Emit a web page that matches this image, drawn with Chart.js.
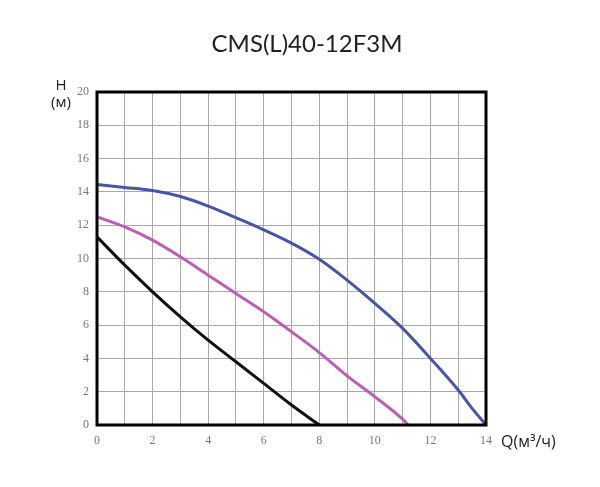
<!DOCTYPE html>
<html>
<head>
<meta charset="utf-8">
<script src="https://cdn.jsdelivr.net/npm/chart.js@4/dist/chart.umd.min.js"></script>
<style>
html,body{margin:0;padding:0;background:#fff;}
#wrap{position:relative;width:600px;height:487px;}
</style>
</head>
<body>
<div id="wrap"><canvas id="c" width="600" height="487"></canvas></div>
<script>
const titleText = 'CMS(L)40-12F3M';
const yLabelTop = 'H';
const yLabelBottom = '(м)';
const xLabel = 'Q(м³/ч)';

const blueQ = [0, 1, 2, 3, 4, 5, 6, 7, 8, 9, 10, 11, 12, 13, 13.5, 14];
const blueH = [14.45, 14.27, 14.08, 13.72, 13.15, 12.45, 11.72, 10.92, 9.95, 8.7, 7.3, 5.8, 4.0, 2.1, 1.0, 0];
const magentaQ = [0, 1, 2, 3, 4, 5, 6, 7, 8, 9, 10, 11, 11.2];
const magentaH = [12.5, 11.9, 11.1, 10.1, 9.0, 7.9, 6.8, 5.6, 4.35, 2.95, 1.7, 0.35, 0];
const blackQ = [0, 1, 2, 3, 4, 5, 6, 7, 8];
const blackH = [11.3, 9.6, 8.0, 6.5, 5.1, 3.8, 2.5, 1.2, 0];

function pts(xs, ys){ return xs.map((x,i)=>({x:x, y:ys[i]})); }

const frame = {
  id:'frame',
  afterDatasetsDraw(chart){
    const {ctx, chartArea:a} = chart;
    ctx.save();
    ctx.strokeStyle = '#000';
    ctx.lineWidth = 3;
    ctx.strokeRect(a.left, a.top, a.right - a.left, a.bottom - a.top);
    ctx.restore();
  },
  afterDraw(chart){
    const ctx = chart.ctx;
    ctx.save();
    ctx.fillStyle = '#222';
    ctx.textAlign = 'center';
    ctx.textBaseline = 'alphabetic';
    ctx.font = '24px Lato, "Open Sans", sans-serif';
    ctx.fillText(titleText, 307, 52);
    ctx.font = '15px "Open Sans", sans-serif';
    ctx.textBaseline = 'middle';
    ctx.fillText(yLabelTop, 61, 86);
    ctx.fillText(yLabelBottom, 61, 103);
    ctx.textAlign = 'left';
    ctx.font = '16px "Open Sans", sans-serif';
    ctx.fillText(xLabel, 501, 442);
    ctx.restore();
  }
};

const tickFont = {family:'"Liberation Serif", "DejaVu Serif", serif', size:12};

new Chart(document.getElementById('c'), {
  type:'line',
  data:{
    datasets:[
      {data:pts(blueQ, blueH), borderColor:'#4a54a6', borderWidth:3, pointRadius:0, cubicInterpolationMode:'monotone', fill:false},
      {data:pts(magentaQ, magentaH), borderColor:'#bb5fb3', borderWidth:3, pointRadius:0, cubicInterpolationMode:'monotone', fill:false},
      {data:pts(blackQ, blackH), borderColor:'#111', borderWidth:3, pointRadius:0, cubicInterpolationMode:'monotone', fill:false}
    ]
  },
  options:{
    responsive:false,
    animation:false,
    events:[],
    layout:{padding:{left:0, top:92, right:114, bottom:0}},
    plugins:{legend:{display:false}, tooltip:{enabled:false}, title:{display:false}},
    scales:{
      x:{
        type:'linear', min:0, max:14,
        afterFit(s){ s.height = 62; },
        ticks:{stepSize:1, autoSkip:false, maxRotation:0, padding:9, color:'#777', font:tickFont,
          callback:(v)=> (v % 2 === 0 ? String(v) : '')},
        grid:{color:'#a8a8a8', lineWidth:1, drawTicks:false},
        border:{display:false}
      },
      y:{
        type:'linear', min:0, max:20,
        afterFit(s){ s.width = 97; },
        ticks:{stepSize:2, padding:8, color:'#777', font:tickFont},
        grid:{color:'#a8a8a8', lineWidth:1, drawTicks:false},
        border:{display:false}
      }
    }
  },
  plugins:[frame]
});
</script>
</body>
</html>
